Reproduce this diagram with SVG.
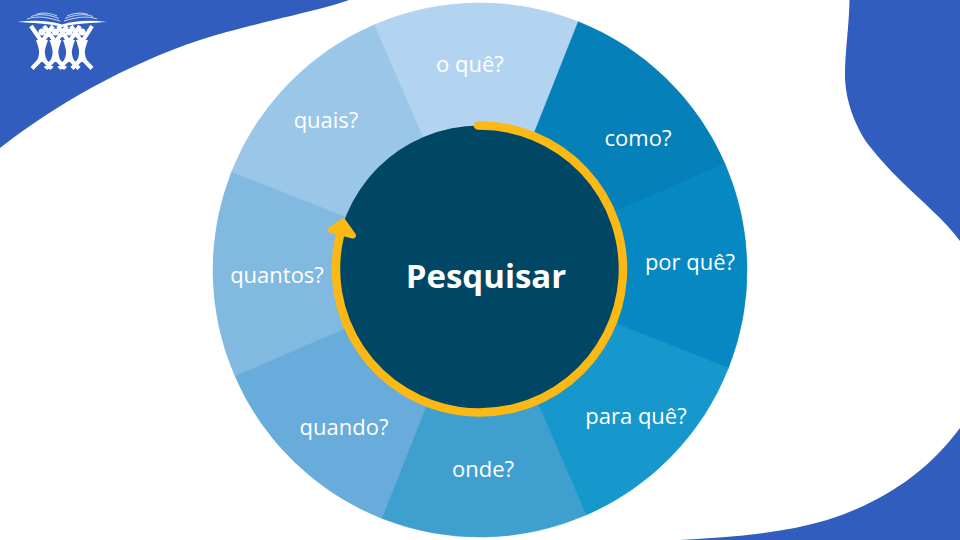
<svg xmlns="http://www.w3.org/2000/svg" width="960" height="540" viewBox="0 0 960 540">
<style>
.bg{fill:#315dbf}
.lb{font-family:"Open Sans","Liberation Sans",sans-serif;font-size:22px;fill:#fff;text-anchor:middle}
.fig{fill:none;stroke:#fff;stroke-width:4.2;stroke-linecap:butt;stroke-linejoin:round}
.pg{fill:none;stroke:#d8e2f5;stroke-width:.9}
.seg{stroke-width:.6}
</style>
<rect width="960" height="540" fill="#fff"/>
<g id="background">
<path class="bg" d="M0 0H349C315 12 245 25 200 40C125 65 55 105 0 148Z"/>
<path class="bg" d="M849.500 0C849 28 845 50 845 75C845 100 855 125 867 143C878 157 888 168 900 180C920 200 945 220 960 241V0Z"/>
<path class="bg" d="M960 428C925 475 880 503 827 520C780 534 730 537 680 540H960Z"/>
</g>
<g id="logo">
<path d="M17 22C32 20 48 20 62 24.500C76 20 92 20 107 22C92 23 76 23 62 27C48 23 32 23 17 22Z" fill="#fff"/>
<path class="pg" d="M27 19C38 15 50 18 60 21M64 21C74 18 86 15 97 19M31 16.500C40 13 50 15 59 18.500M65 18.500C74 15 84 13 93 16.500M36 14.500C42 12 50 13 57 16M67 16C74 13 82 12 88 14.500"/>
<circle cx="42" cy="32" r="3.500" fill="#fff"/><circle cx="55.500" cy="32" r="3.500" fill="#fff"/><circle cx="69" cy="32" r="3.500" fill="#fff"/><circle cx="82" cy="32" r="3.500" fill="#fff"/>
<path class="fig" d="M31 26L42 42L53 26M44 26L55.500 42L67 26M58 26L69 42L80 26M71 26L82 42L92 26"/>
<path fill="#fff" d="M36 40H48C45.500 47 44.500 51 45 54C45.500 57 46 58 47 61H37C38 58 38.500 57 39 54C39.500 51 38.500 47 36 40Z"/>
<path fill="#fff" d="M49.500 40H61.500C59 47 58 51 58.500 54C59 57 59.500 58 60.500 61H50.500C51.500 58 52 57 52.500 54C53 51 52 47 49.500 40Z"/>
<path fill="#fff" d="M63 40H75C72.500 47 71.500 51 72 54C72.500 57 73 58 74 61H64C65 58 65.500 57 66 54C66.500 51 65.500 47 63 40Z"/>
<path fill="#fff" d="M76 40H88C85.500 47 84.500 51 85 54C85.500 57 86 58 87 61H77C78 58 78.500 57 79 54C79.500 51 78.500 47 76 40Z"/>
<path class="fig" d="M42 58L32 68.500M42 58L52 68.500M55.500 58L45.500 68.500M55.500 58L65.500 68.500M69 58L59 68.500M69 58L79 68.500M82 58L72 68.500M82 58L92 68.500"/>
</g>
<g id="connectors"></g>
<g id="wheel-base"><circle cx="480" cy="270" r="266.500" fill="#67acda"/></g>
<g id="seg-oque"><path class="seg" fill="#b3d4f0" stroke="#b3d4f0" d="M480 270L374 24.900A267 267 0 0 1 578.300 21.700Z"/><text class="lb" x="470" y="72">o quê?</text></g>
<g id="seg-como"><path class="seg" fill="#0580b9" stroke="#0580b9" d="M480 270L578.300 21.700A267 267 0 0 1 725 164Z"/><text class="lb" x="638" y="146">como?</text></g>
<g id="seg-porque"><path class="seg" fill="#0689c3" stroke="#0689c3" d="M480 270L725 164A267 267 0 0 1 728.300 368.300Z"/><text class="lb" x="690" y="270">por quê?</text></g>
<g id="seg-paraque"><path class="seg" fill="#1798cc" stroke="#1798cc" d="M480 270L728.300 368.300A267 267 0 0 1 586 515.100Z"/><text class="lb" x="636" y="424">para quê?</text></g>
<g id="seg-onde"><path class="seg" fill="#3fa0d0" stroke="#3fa0d0" d="M480 270L586 515.100A267 267 0 0 1 381.700 518.300Z"/><text class="lb" x="483" y="477">onde?</text></g>
<g id="seg-quando"><path class="seg" fill="#67acda" stroke="#67acda" d="M480 270L381.700 518.300A267 267 0 0 1 235 376Z"/><text class="lb" x="344" y="435">quando?</text></g>
<g id="seg-quantos"><path class="seg" fill="#82b9e0" stroke="#82b9e0" d="M480 270L235 376A267 267 0 0 1 231.700 171.700Z"/><text class="lb" x="277" y="283">quantos?</text></g>
<g id="seg-quais"><path class="seg" fill="#9ac6e8" stroke="#9ac6e8" d="M480 270L231.700 171.700A267 267 0 0 1 374 24.900Z"/><text class="lb" x="326" y="128">quais?</text></g>
<g id="center"><circle cx="480" cy="270" r="144.500" fill="#004766"/>
<text x="486" y="288" font-family="'Open Sans','Liberation Sans',sans-serif" font-weight="700" font-size="33" fill="#fff" text-anchor="middle">Pesquisar</text></g>
<g id="arrow">
<path d="M478 125.500A143.500 143.500 0 1 1 339.800 236" fill="none" stroke="#fdb913" stroke-width="8.500" stroke-linecap="round"/>
<path d="M343 221.500L331 230L353 235.500Z" fill="#fdb913" stroke="#fdb913" stroke-width="6" stroke-linejoin="round"/>
</g>
</svg>
